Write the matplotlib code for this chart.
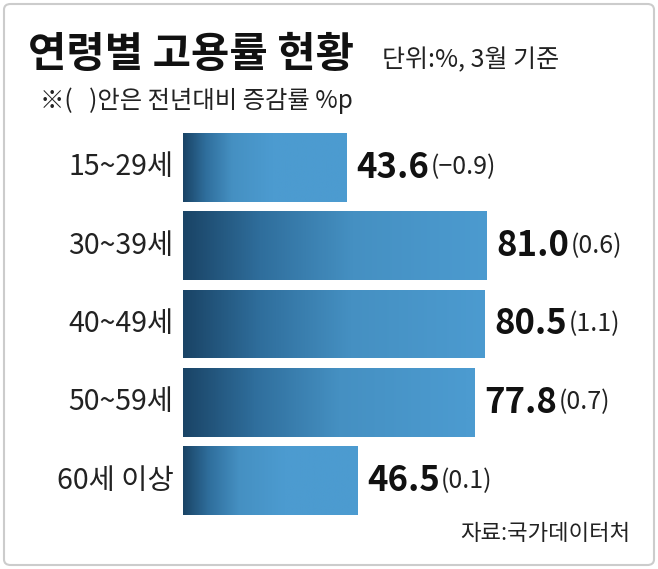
import matplotlib
matplotlib.use("Agg")
import matplotlib.pyplot as plt
import numpy as np
from matplotlib.colors import LinearSegmentedColormap

plt.rcParams['font.family'] = ['Noto Sans CJK KR', 'DejaVu Sans']

categories = ["15~29세", "30~39세", "40~49세", "50~59세", "60세 이상"]
values = [43.6, 81.0, 80.5, 77.8, 46.5]
changes = ["(−0.9)", "(0.6)", "(1.1)", "(0.7)", "(0.1)"]

W, H = 658, 569
fig = plt.figure(figsize=(W/100, H/100), dpi=100)
fig.patch.set_facecolor("white")

from matplotlib.patches import FancyBboxPatch
fig.patches.append(FancyBboxPatch((4/W, 4/H), (W-8)/W, (H-8)/H, boxstyle="round,pad=0,rounding_size=0.01",
                                  transform=fig.transFigure, fill=False, ec="#cccccc", lw=1.5))

x0, x1 = 183, 650
top, bot = 128, 520
ax = fig.add_axes([x0/W, (H-bot)/H, (x1-x0)/W, (bot-top)/H])
scale = 3.75
ax.set_xlim(0, (x1-x0)/scale)
ax.set_ylim(len(values)-0.5, -0.5)
ax.axis("off")

cmap = LinearSegmentedColormap.from_list("g", [(0, "#1a4466"), (0.25, "#2f6e9c"), (0.55, "#4590c2"), (1, "#4c9bd0")])
bars = ax.barh(range(len(values)), values, height=0.88, color="none")
for b, v in zip(bars, values):
    im = ax.imshow(np.minimum(np.linspace(0, 1, 256) * 80 / v, 1).reshape(1, -1), cmap=cmap, aspect="auto",
                   extent=[0, v, b.get_y()+b.get_height(), b.get_y()], zorder=2, vmin=0, vmax=1)
    im.set_clip_path(b)

for i, (c, v, ch) in enumerate(zip(categories, values, changes)):
    ax.text(-2.5, i, c, ha="right", va="center", fontsize=20.5, color="#222222")
    t = ax.annotate(f"{v:.1f}", (v, i), xytext=(7, 0), textcoords="offset points",
                    ha="left", va="center", fontsize=25, fontweight="bold", color="#111111")
    fig.canvas.draw()
    bb = t.get_window_extent()
    ax.annotate(ch, (bb.x1, (bb.y0+bb.y1)/2), xycoords="figure pixels", xytext=(1, 0),
                textcoords="offset points", ha="left", va="center", fontsize=18, color="#222222")

fig.text(28/W, 1-55/H, "연령별 고용률 현황", fontsize=30, fontweight="bold", va="center", ha="left", color="#111111")
fig.text(382/W, 1-60/H, "단위:%, 3월 기준", fontsize=18, va="center", ha="left", color="#222222")
fig.text(40/W, 1-101/H, "※(   )안은 전년대비 증감률 %p", fontsize=17.5, va="center", ha="left", color="#222222")
fig.text(630/W, 1-533/H, "자료:국가데이터처", fontsize=16, va="center", ha="right", color="#222222")

fig.savefig("out.png", dpi=100)
